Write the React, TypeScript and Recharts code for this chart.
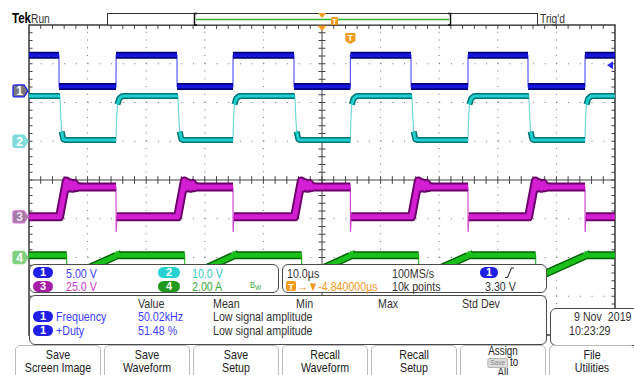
import React from 'react';
import {
  LineChart,
  Line,
  XAxis,
  YAxis,
  ReferenceLine,
  ReferenceDot,
  ReferenceArea,
} from 'recharts';

type Pt = [number, number];
type Row = { t: number; v: number | null };

const FONT = "'Liberation Sans', Arial, sans-serif";
const NARROW = 0.82; // horizontal squeeze giving the instrument's narrow lettering

// Screen and graticule placement
const SCREEN_W = 634;
const SCREEN_H = 375;
const PLOT = { left: 29, top: 25, right: 615, bottom: 335 };

// Horizontal: 10 µs/div over 10 divisions; vertical: ±4 divisions
const TIME_DOMAIN: [number, number] = [0, 100];
const DIV_DOMAIN: [number, number] = [-4, 4];
const CENTER_TIME = 50;

// Vertical setup of each channel
const CHANNEL_LABELS = ['1', '2', '3', '4'];
const CHANNEL_SCALE = [5, 10, 25, 2]; // units per division
const CHANNEL_UNIT = ['V', 'V', 'V', 'A'];
const CHANNEL_POSITION = [2.3, 1.0, -0.95, -2.0]; // ground marker, in divisions

const TRIGGER_TIME = 54.84; // µs
const TRIGGER_LEVEL = 3.3; // V, channel 1

// Channel 1: gate drive logic (V)
const CH1_SAMPLES: Pt[] = [
  [0, 4.6], [5.12, 4.6], [5.13, 0.55], [14.85, 0.55], [14.86, 4.6],
  [25.26, 4.6], [25.27, 0.55], [34.81, 0.55], [34.82, 4.6],
  [45.22, 4.6], [45.23, 0.55], [54.84, 0.55], [54.85, 4.6],
  [65.19, 4.6], [65.2, 0.55], [74.91, 0.55], [74.92, 4.6],
  [85.15, 4.6], [85.16, 0.55], [94.88, 0.55], [94.89, 4.6], [100, 4.6],
];

// Channel 2: gate voltage (V)
const CH2_SAMPLES: Pt[] = [
  [0, 11.7],
  [5.27, 11.7], [5.42, 6.3], [5.57, 2.5], [5.87, 0.5], [6.22, 0.3],
  [14.85, 0.3], [14.95, 6.0], [15.1, 9.5], [15.4, 11.0], [15.85, 11.6], [16.35, 11.7],
  [25.41, 11.7], [25.56, 6.3], [25.71, 2.5], [26.01, 0.5], [26.36, 0.3],
  [34.81, 0.3], [34.91, 6.0], [35.06, 9.5], [35.36, 11.0], [35.81, 11.6], [36.31, 11.7],
  [45.37, 11.7], [45.52, 6.3], [45.67, 2.5], [45.97, 0.5], [46.32, 0.3],
  [54.84, 0.3], [54.94, 6.0], [55.09, 9.5], [55.39, 11.0], [55.84, 11.6], [56.34, 11.7],
  [65.34, 11.7], [65.49, 6.3], [65.64, 2.5], [65.94, 0.5], [66.29, 0.3],
  [74.91, 0.3], [75.01, 6.0], [75.16, 9.5], [75.46, 11.0], [75.91, 11.6], [76.41, 11.7],
  [85.3, 11.7], [85.45, 6.3], [85.6, 2.5], [85.9, 0.5], [86.25, 0.3],
  [94.88, 0.3], [94.98, 6.0], [95.13, 9.5], [95.43, 11.0], [95.88, 11.6], [96.38, 11.7],
  [100, 11.7],
];

// Channel 3: switch node (V)
const CH3_SAMPLES: Pt[] = [
  [0, 0],
  [5.22, 0], [6.37, 23.1], [6.67, 18.4], [7.02, 22.0], [7.42, 18.4], [7.77, 21.6], [8.12, 18.8], [8.52, 19.4], [8.92, 19.2],
  [14.85, 19.2], [14.87, -9.8], [15.0, 0],
  [25.36, 0], [26.51, 23.1], [26.81, 18.4], [27.16, 22.0], [27.56, 18.4], [27.91, 21.6], [28.26, 18.8], [28.66, 19.4], [29.06, 19.2],
  [34.81, 19.2], [34.83, -9.8], [34.96, 0],
  [45.32, 0], [46.47, 23.1], [46.77, 18.4], [47.12, 22.0], [47.52, 18.4], [47.87, 21.6], [48.22, 18.8], [48.62, 19.4], [49.02, 19.2],
  [54.84, 19.2], [54.86, -9.8], [54.99, 0],
  [65.29, 0], [66.44, 23.1], [66.74, 18.4], [67.09, 22.0], [67.49, 18.4], [67.84, 21.6], [68.19, 18.8], [68.59, 19.4], [68.99, 19.2],
  [74.91, 19.2], [74.93, -9.8], [75.06, 0],
  [85.25, 0], [86.4, 23.1], [86.7, 18.4], [87.05, 22.0], [87.45, 18.4], [87.8, 21.6], [88.15, 18.8], [88.55, 19.4], [88.95, 19.2],
  [94.88, 19.2], [94.9, -9.8], [95.03, 0],
  [100, 0],
];

// Channel 4: inductor current (A)
const CH4_SAMPLES: Pt[] = [
  [0, 0.12],
  [6.42, 0.12], [6.47, -1.05], [14.85, 0.08], [14.91, 0.28], [15.2, 0.12],
  [26.56, 0.12], [26.61, -1.05], [34.81, 0.08], [34.87, 0.28], [35.16, 0.12],
  [46.52, 0.12], [46.57, -1.05], [54.84, 0.08], [54.9, 0.28], [55.19, 0.12],
  [66.49, 0.12], [66.54, -1.05], [74.91, 0.08], [74.97, 0.28], [75.26, 0.12],
  [86.45, 0.12], [86.5, -1.05], [94.88, 0.08], [94.94, 0.28], [95.23, 0.12],
  [100, 0.12],
];

const SAMPLES = [CH1_SAMPLES, CH2_SAMPLES, CH3_SAMPLES, CH4_SAMPLES];

// Readouts
const TIMEBASE = '10.0µs';
const SAMPLE_RATE = '100MS/s';
const RECORD = '10k points';
const HORIZ_POSITION = '-4.840000µs';
const MEAS_HEADERS = ['Value', 'Mean', 'Min', 'Max', 'Std Dev'];
const MEAS_NAMES = ['Frequency', '+Duty'];
const MEAS_VALUES = ['50.02kHz', '51.48 %'];
const MEAS_MEANS = ['Low signal amplitude', 'Low signal amplitude'];
const DATE = '9 Nov  2019';
const TIME = '10:23:29';
const MENU = [
  ['Save', 'Screen Image'],
  ['Save', 'Waveform'],
  ['Save', 'Setup'],
  ['Recall', 'Waveform'],
  ['Recall', 'Setup'],
  ['Assign', 'to', 'All'],
  ['File', 'Utilities'],
];

// Styling
const CH_STYLE = [
  { edge: '#5a5aff', outer: '#00007c', inner: '#1616e0', outerW: 7, innerW: 3.5, pill: '#1f1fe6', text: '#3c3cff', tag: '#787878', tagStroke: '#2020ff', tagText: '#ffffff' },
  { edge: '#72d8d8', outer: '#007373', inner: '#1fcfcf', outerW: 6, innerW: 3, pill: '#27d2d2', text: '#2ec8c8', tag: '#80dcdc', tagStroke: '#80dcdc', tagText: '#ffffff' },
  { edge: '#d24ad2', outer: '#6e006e', inner: '#d41ed4', outerW: 9, innerW: 5, pill: '#a51ea5', text: '#c83cc8', tag: '#a27ea2', tagStroke: '#d070d0', tagText: '#f4dcf4' },
  { edge: '#30b830', outer: '#006400', inner: '#1cc01c', outerW: 8, innerW: 5, pill: '#1f9a1f', text: '#35a835', tag: '#80d080', tagStroke: '#80d080', tagText: '#ffffff' },
];
const ORANGE = '#f29a1d';
const GRID = '#6e6e6e';
const AXIS = '#454545';

// Graticule positions (data units)
const MINOR_T = Array.from({ length: 49 }, (_, i) => (i + 1) * 2);
const MINOR_DIV = Array.from({ length: 39 }, (_, i) => +(-3.8 + i * 0.2).toFixed(1));
const MAJOR_T = [10, 20, 30, 40, 60, 70, 80, 90];
const MAJOR_DIV = [-3, -2, -1, 1, 2, 3];

function toRows(pts: Pt[]): Row[] {
  return pts.map(([t, v]) => ({ t, v }));
}

// Keep only the slow parts of a trace (those drawn with full intensity)
function slowParts(pts: Pt[], minDur: number): Row[] {
  const out: Row[] = [];
  let open = false;
  for (let i = 0; i < pts.length - 1; i++) {
    const [t0, v0] = pts[i];
    const [t1, v1] = pts[i + 1];
    if (t1 - t0 >= minDur) {
      if (!open) {
        out.push({ t: t0, v: v0 });
        open = true;
      }
      out.push({ t: t1, v: v1 });
    } else if (open) {
      out.push({ t: (t0 + t1) / 2, v: null });
      open = false;
    }
  }
  return out;
}

function graticule() {
  const g: React.ReactElement[] = [];
  MAJOR_DIV.forEach((d) =>
    g.push(<ReferenceLine key={'gh' + d} yAxisId="div" y={d} stroke={GRID} strokeDasharray="1 10.72" />)
  );
  MAJOR_T.forEach((t) =>
    g.push(<ReferenceLine key={'gv' + t} yAxisId="div" x={t} stroke={GRID} strokeDasharray="1 6.75" />)
  );
  g.push(<ReferenceLine key="c-h" yAxisId="div" y={0} stroke={AXIS} />);
  g.push(<ReferenceLine key="c-v" yAxisId="div" x={CENTER_TIME} stroke={AXIS} />);
  MINOR_T.forEach((t) => {
    g.push(<ReferenceLine key={'tc' + t} yAxisId="div" segment={[{ x: t, y: -0.1 }, { x: t, y: 0.1 }]} stroke={AXIS} />);
    g.push(<ReferenceLine key={'tt' + t} yAxisId="div" segment={[{ x: t, y: 4 }, { x: t, y: 3.9 }]} stroke={AXIS} />);
    g.push(<ReferenceLine key={'tb' + t} yAxisId="div" segment={[{ x: t, y: -4 }, { x: t, y: -3.9 }]} stroke={AXIS} />);
  });
  MINOR_DIV.forEach((d) => {
    g.push(<ReferenceLine key={'vc' + d} yAxisId="div" segment={[{ x: CENTER_TIME - 0.6, y: d }, { x: CENTER_TIME + 0.6, y: d }]} stroke={AXIS} />);
    g.push(<ReferenceLine key={'vl' + d} yAxisId="div" segment={[{ x: 0, y: d }, { x: 0.6, y: d }]} stroke={AXIS} />);
    g.push(<ReferenceLine key={'vr' + d} yAxisId="div" segment={[{ x: 100, y: d }, { x: 99.4, y: d }]} stroke={AXIS} />);
  });
  g.push(
    <ReferenceArea key="border" yAxisId="div" x1={0} x2={100} y1={-4} y2={4} fill="none" stroke="#3a3a3a" strokeWidth={1.5} />
  );
  return g;
}

function traces() {
  const out: React.ReactElement[] = [];
  [3, 2, 1, 0].forEach((i) => {
    const st = CH_STYLE[i];
    const full = toRows(SAMPLES[i]);
    const band = slowParts(SAMPLES[i], 0.28);
    const common = {
      yAxisId: 'c' + i,
      dataKey: 'v',
      dot: false,
      activeDot: false,
      isAnimationActive: false,
      type: 'linear' as const,
    };
    out.push(<Line key={'e' + i} {...common} data={full} stroke={st.edge} strokeWidth={1.2} />);
    out.push(<Line key={'o' + i} {...common} data={band} stroke={st.outer} strokeWidth={st.outerW} strokeLinejoin="round" />);
    out.push(<Line key={'i' + i} {...common} data={band} stroke={st.inner} strokeWidth={st.innerW} strokeLinejoin="round" />);
  });
  return out;
}

function ChannelTag({ cx, cy, i }: { cx: number; cy: number; i: number }) {
  const st = CH_STYLE[i];
  const x0 = cx - 16;
  const x1 = cx - 5;
  const tip = cx - 1;
  const d = `M${x0 + 2} ${cy - 6} L${x1} ${cy - 6} L${tip} ${cy} L${x1} ${cy + 6} L${x0 + 2} ${cy + 6} Q${x0} ${cy + 6} ${x0} ${cy + 4} L${x0} ${cy - 4} Q${x0} ${cy - 6} ${x0 + 2} ${cy - 6} Z`;
  return (
    <g>
      <path d={d} fill={st.tag} stroke={st.tagStroke} strokeWidth={1.3} />
      <text x={x0 + 6.5} y={cy + 4.5} textAnchor="middle" fontFamily={FONT} fontWeight={700} fontSize={12} fill={st.tagText}>
        {CHANNEL_LABELS[i]}
      </text>
    </g>
  );
}

function Txt({ x, y, children, size = 13, color = '#333', bold = false }: any) {
  return (
    <div
      style={{
        position: 'absolute',
        left: x,
        top: y,
        transform: `translateY(-50%) scaleX(${NARROW})`,
        transformOrigin: 'left center',
        fontSize: size,
        color,
        fontFamily: FONT,
        lineHeight: 1,
        whiteSpace: 'pre',
        fontWeight: bold ? 700 : 400,
      }}
    >
      {children}
    </div>
  );
}

function Pill({ x, y, w = 20, label, color }: any) {
  return (
    <div
      style={{
        position: 'absolute',
        left: x,
        top: y - 5.5,
        width: w,
        height: 11,
        borderRadius: 6,
        background: color,
        color: '#fff',
        fontSize: 11,
        fontWeight: 700,
        fontFamily: FONT,
        lineHeight: '11px',
        textAlign: 'center',
      }}
    >
      {label}
    </div>
  );
}

function Box({ x, y, w, h }: any) {
  return (
    <div
      style={{
        position: 'absolute',
        left: x,
        top: y,
        width: w,
        height: h,
        border: '1.5px solid #4a4a4a',
        borderRadius: 6,
        background: '#fff',
        boxSizing: 'border-box',
      }}
    />
  );
}

const fmtScale = (i: number) => `${CHANNEL_SCALE[i].toPrecision(3)} ${CHANNEL_UNIT[i]}`;

function MenuButton({ k, lines }: { k: number; lines: string[] }) {
  const three = lines.length === 3;
  return (
    <div
      style={{
        position: 'absolute',
        left: 15 + k * 89,
        top: 345,
        width: 86,
        height: 34,
        border: '1px solid #bcbcbc',
        borderRadius: '5px 5px 0 0',
        background: '#fff',
        boxSizing: 'border-box',
      }}
    >
      <div
        style={{
          transform: `scaleX(${NARROW})`,
          transformOrigin: 'center top',
          fontFamily: FONT,
          fontSize: three ? 12 : 13,
          color: '#222',
          textAlign: 'center',
          whiteSpace: 'nowrap',
          lineHeight: three ? '11px' : '13px',
          paddingTop: three ? 0 : 2,
        }}
      >
        {three ? (
          <>
            <div>{lines[0]}</div>
            <div>
              <span
                style={{
                  display: 'inline-block',
                  fontSize: 8,
                  lineHeight: '8px',
                  padding: '0 2px',
                  background: '#dcdcdc',
                  color: '#8a8a8a',
                  border: '1px solid #b0b0b0',
                  borderRadius: 2,
                  marginRight: 3,
                  verticalAlign: 'middle',
                }}
              >
                Save
              </span>
              {lines[1]}
            </div>
            <div>{lines[2]}</div>
          </>
        ) : (
          lines.map((l) => <div key={l}>{l}</div>)
        )}
      </div>
    </div>
  );
}

export default function App() {
  return (
    <div
      style={{
        position: 'absolute',
        left: 0,
        top: 0,
        width: SCREEN_W,
        height: SCREEN_H,
        overflow: 'hidden',
        background: '#fff',
        fontFamily: FONT,
      }}
    >
      <div style={{ position: 'absolute', left: 0, top: 0 }}>
        <LineChart
          width={SCREEN_W}
          height={SCREEN_H}
          margin={{ top: PLOT.top, left: PLOT.left, right: SCREEN_W - PLOT.right, bottom: SCREEN_H - PLOT.bottom }}
        >
          <XAxis type="number" dataKey="t" domain={TIME_DOMAIN} hide allowDataOverflow />
          <YAxis yAxisId="div" type="number" domain={DIV_DOMAIN} hide allowDataOverflow />
          {CHANNEL_SCALE.map((s, i) => (
            <YAxis
              key={'ax' + i}
              yAxisId={'c' + i}
              type="number"
              hide
              allowDataOverflow
              domain={[(DIV_DOMAIN[0] - CHANNEL_POSITION[i]) * s, (DIV_DOMAIN[1] - CHANNEL_POSITION[i]) * s]}
            />
          ))}
          {graticule()}
          {traces()}
          {CHANNEL_LABELS.map((_, i) => (
            <ReferenceDot
              key={'tag' + i}
              yAxisId={'c' + i}
              x={TIME_DOMAIN[0]}
              y={0}
              ifOverflow="visible"
              shape={(p: any) => <ChannelTag cx={p.cx} cy={p.cy} i={i} />}
            />
          ))}
          <ReferenceDot
            yAxisId="c0"
            x={TIME_DOMAIN[1]}
            y={TRIGGER_LEVEL}
            ifOverflow="visible"
            shape={(p: any) => (
              <polygon points={`${p.cx - 8},${p.cy} ${p.cx - 2},${p.cy - 4} ${p.cx - 2},${p.cy + 4}`} fill="#2a2aff" />
            )}
          />
          <ReferenceDot
            yAxisId="div"
            x={CENTER_TIME}
            y={DIV_DOMAIN[1]}
            ifOverflow="visible"
            shape={(p: any) => (
              <polygon points={`${p.cx - 5},${p.cy} ${p.cx + 5},${p.cy} ${p.cx},${p.cy + 6}`} fill={ORANGE} />
            )}
          />
          <ReferenceDot
            yAxisId="div"
            x={TRIGGER_TIME}
            y={DIV_DOMAIN[1]}
            ifOverflow="visible"
            shape={(p: any) => (
              <g>
                <path
                  d={`M${p.cx - 5} ${p.cy + 8} H${p.cx + 5} V${p.cy + 16} L${p.cx} ${p.cy + 19} L${p.cx - 5} ${p.cy + 16} Z`}
                  fill={ORANGE}
                />
                <text x={p.cx} y={p.cy + 16} textAnchor="middle" fontFamily={FONT} fontWeight={700} fontSize={9} fill="#fff">
                  T
                </text>
              </g>
            )}
          />
        </LineChart>
      </div>

      {/* Status bar */}
      <Txt x={12} y={18} size={14} color="#000" bold>
        Tek
      </Txt>
      <Txt x={31} y={18.5} size={12.5} color="#333">
        Run
      </Txt>
      <svg style={{ position: 'absolute', left: 0, top: 0 }} width={SCREEN_W} height={26}>
        <rect x={107.5} y={13.5} width={430} height={11.5} fill="#fff" stroke="#333" />
        <line x1={196} x2={449} y1={19.5} y2={19.5} stroke="#35b035" strokeWidth={1.5} />
        <path d="M197 13.5 H194.5 V25 H197" fill="none" stroke="#111" strokeWidth={1.5} />
        <path d="M448 13.5 H450.5 V25 H448" fill="none" stroke="#111" strokeWidth={1.5} />
        <polygon points="318,13 326,13 322,18" fill={ORANGE} />
        <rect x={331} y={17} width={7} height={8} rx={1.5} fill={ORANGE} />
        <text x={334.5} y={24} textAnchor="middle" fontFamily={FONT} fontSize={8} fontWeight={700} fill="#fff">
          T
        </text>
      </svg>
      <Txt x={540} y={18.5} size={12.5} color="#333">
        Trig'd
      </Txt>

      {/* Channel settings */}
      <Box x={29} y={264} w={250} h={29} />
      <Pill x={33} y={272.5} label="1" color={CH_STYLE[0].pill} />
      <Txt x={66} y={272.5} color={CH_STYLE[0].text}>{fmtScale(0)}</Txt>
      <Pill x={158} y={272.5} w={22} label="2" color={CH_STYLE[1].pill} />
      <Txt x={192} y={272.5} color={CH_STYLE[1].text}>{fmtScale(1)}</Txt>
      <Pill x={33} y={286} label="3" color={CH_STYLE[2].pill} />
      <Txt x={66} y={286} color={CH_STYLE[2].text}>{fmtScale(2)}</Txt>
      <Pill x={158} y={286} w={22} label="4" color={CH_STYLE[3].pill} />
      <Txt x={192} y={286} color={CH_STYLE[3].text}>{fmtScale(3)}</Txt>
      <Txt x={250} y={285} size={9} color="#35a835">
        B
      </Txt>
      <Txt x={255} y={288} size={8} color="#35a835">
        W
      </Txt>

      {/* Horizontal / trigger settings */}
      <Box x={282} y={264} w={265} h={29} />
      <Txt x={287} y={272.5}>{TIMEBASE}</Txt>
      <Txt x={392} y={272.5}>{SAMPLE_RATE}</Txt>
      <Pill x={480} y={272.5} w={18} label="1" color={CH_STYLE[0].pill} />
      <svg style={{ position: 'absolute', left: 0, top: 0 }} width={SCREEN_W} height={SCREEN_H}>
        <path d="M505 277.5 H507.5 L511.5 268 H514" fill="none" stroke="#333" strokeWidth={1.1} />
        <rect x={286} y={281} width={10} height={10} rx={2} fill={ORANGE} />
        <text x={291} y={289.5} textAnchor="middle" fontFamily={FONT} fontSize={9} fontWeight={700} fill="#fff">
          T
        </text>
      </svg>
      <Txt x={297} y={286} color={ORANGE}>{'→▼' + HORIZ_POSITION}</Txt>
      <Txt x={392} y={286}>{RECORD}</Txt>
      <Txt x={485} y={286}>{`${TRIGGER_LEVEL.toFixed(2)} V`}</Txt>

      {/* Measurements */}
      <Box x={29} y={295} w={518} h={50} />
      {MEAS_HEADERS.map((h, k) => (
        <Txt key={h} x={[138, 213, 296, 378, 462][k]} y={302.5}>
          {h}
        </Txt>
      ))}
      {MEAS_NAMES.map((n, k) => (
        <React.Fragment key={n}>
          <Pill x={33} y={316 + k * 14} label="1" color={CH_STYLE[0].pill} />
          <Txt x={56} y={316 + k * 14} color={CH_STYLE[0].text}>{n}</Txt>
          <Txt x={138} y={316 + k * 14} color={CH_STYLE[0].text}>{MEAS_VALUES[k]}</Txt>
          <Txt x={213} y={316 + k * 14}>{MEAS_MEANS[k]}</Txt>
        </React.Fragment>
      ))}

      {/* Date */}
      <Box x={550} y={308} w={100} h={38} />
      <Txt x={574} y={316}>{DATE}</Txt>
      <Txt x={569} y={330}>{TIME}</Txt>

      {/* Menu buttons */}
      {MENU.map((lines, k) => (
        <MenuButton key={k} k={k} lines={lines} />
      ))}
    </div>
  );
}
